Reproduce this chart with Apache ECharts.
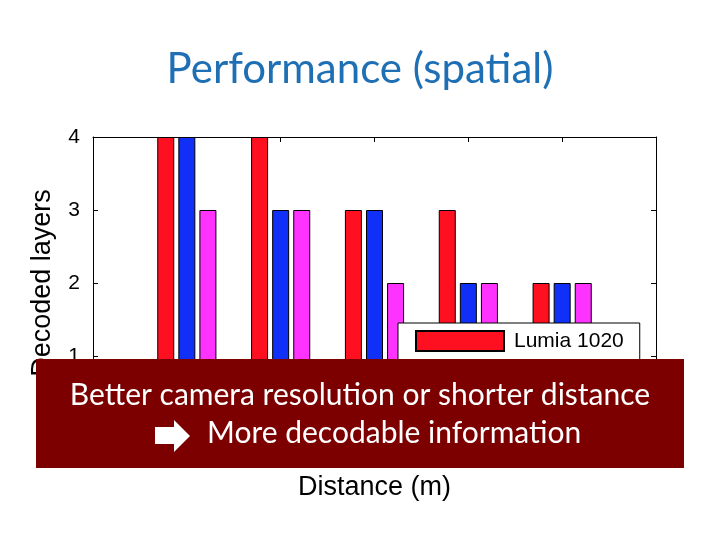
<!DOCTYPE html>
<html>
<head>
<meta charset="utf-8">
<script src="https://cdn.jsdelivr.net/npm/echarts@6/dist/echarts.min.js"></script>
<style>
  html, body { margin: 0; padding: 0; background: #fff; }
  #chart { width: 720px; height: 540px; }
</style>
</head>
<body>
<div id="chart"></div>
<script>
// distance group positions (1..5 on the axis, labels are hidden under the banner)
const positions = [1, 2, 3, 4, 5];
const seriesNames = ["Lumia 1020", "Galaxy S5", "iPhone 5s"];
const phone1 = [4, 4, 3, 3, 2];
const phone2 = [4, 3, 3, 2, 2];
const phone3 = [3, 3, 2, 2, 2];
const yTicks = [0, 1, 2, 3, 4];

const chart = echarts.init(document.getElementById("chart"));

const font = "'Liberation Sans', Arial, sans-serif";
const slideFont = "Lato, 'Open Sans', sans-serif";
const colors = ["#ff1020", "#1030f8", "#ff33ff"];
const values = [phone1, phone2, phone3];

const series = seriesNames.map((name, i) => ({
    name: name,
    type: "bar",
    barWidth: 17,
    barGap: "24%",
    data: positions.map((p, j) => [p, values[i][j]]),
    itemStyle: {
        color: colors[i],
        borderColor: "#000",
        borderWidth: 1,
    },
}));

// shared look of the box axes
const boxLine = { show: true, onZero: false, lineStyle: { color: "#000" } };
const boxTick = { show: true, inside: true, length: 5, lineStyle: { color: "#000" } };

const option = {
    animation: false,
    title: {
        text: "Performance (spatial)",
        left: "center",
        top: 43,
        textStyle: {
            fontFamily: slideFont,
            fontWeight: "normal",
            fontSize: 42,
            color: "#1f6fb5",
        },
    },
    grid: { left: 93, right: 64, top: 137, bottom: 111 },
    legend: {
        orient: "vertical",
        left: 398,
        top: 323,
        padding: [7, 16, 7, 17],
        itemGap: 7,
        itemWidth: 88,
        itemHeight: 20,
        icon: "rect",
        backgroundColor: "#fff",
        borderColor: "#000",
        borderWidth: 1,
        textStyle: { fontFamily: font, fontSize: 21, color: "#000", padding: [0, 0, 0, 5] },
        data: seriesNames,
    },
    xAxis: [
        {
            type: "value",
            min: 0,
            max: 6,
            interval: 1,
            name: "Distance (m)",
            nameLocation: "middle",
            nameGap: 45,
            nameTextStyle: { fontFamily: font, fontSize: 27, color: "#000" },
            axisLine: boxLine,
            axisTick: boxTick,
            axisLabel: { show: false },
            splitLine: { show: false },
        },
        {
            type: "value",
            position: "top",
            min: 0,
            max: 6,
            interval: 1,
            axisLine: boxLine,
            axisTick: boxTick,
            axisLabel: { show: false },
            splitLine: { show: false },
        },
    ],
    yAxis: [
        {
            type: "value",
            min: yTicks[0],
            max: yTicks[yTicks.length - 1],
            interval: 1,
            name: "Decoded layers",
            nameLocation: "middle",
            nameGap: 37,
            nameTextStyle: { fontFamily: font, fontSize: 27, color: "#000" },
            axisLine: boxLine,
            axisTick: boxTick,
            axisLabel: { fontFamily: font, fontSize: 21, color: "#000", margin: 13 },
            splitLine: { show: false },
        },
        {
            type: "value",
            position: "right",
            min: yTicks[0],
            max: yTicks[yTicks.length - 1],
            interval: 1,
            axisLine: boxLine,
            axisTick: boxTick,
            axisLabel: { show: false },
            splitLine: { show: false },
        },
    ],
    series: series,
    graphic: [
        {
            type: "rect",
            z: 100,
            shape: { x: 36, y: 359, width: 648, height: 109 },
            style: { fill: "#7c0000" },
        },
        {
            type: "text",
            z: 101,
            x: 360,
            y: 395,
            style: {
                text: "Better camera resolution or shorter distance",
                fill: "#fff",
                fontFamily: slideFont,
                fontSize: 30,
                align: "center",
                verticalAlign: "middle",
            },
        },
        {
            type: "polygon",
            z: 101,
            shape: {
                points: [[155, 427], [174, 427], [174, 420], [190, 436], [174, 452], [174, 444], [155, 444]],
            },
            style: { fill: "#fff" },
        },
        {
            type: "text",
            z: 101,
            x: 207,
            y: 433,
            style: {
                text: "More decodable information",
                fill: "#fff",
                fontFamily: slideFont,
                fontSize: 30,
                align: "left",
                verticalAlign: "middle",
            },
        },
    ],
};

chart.setOption(option);
</script>
</body>
</html>
